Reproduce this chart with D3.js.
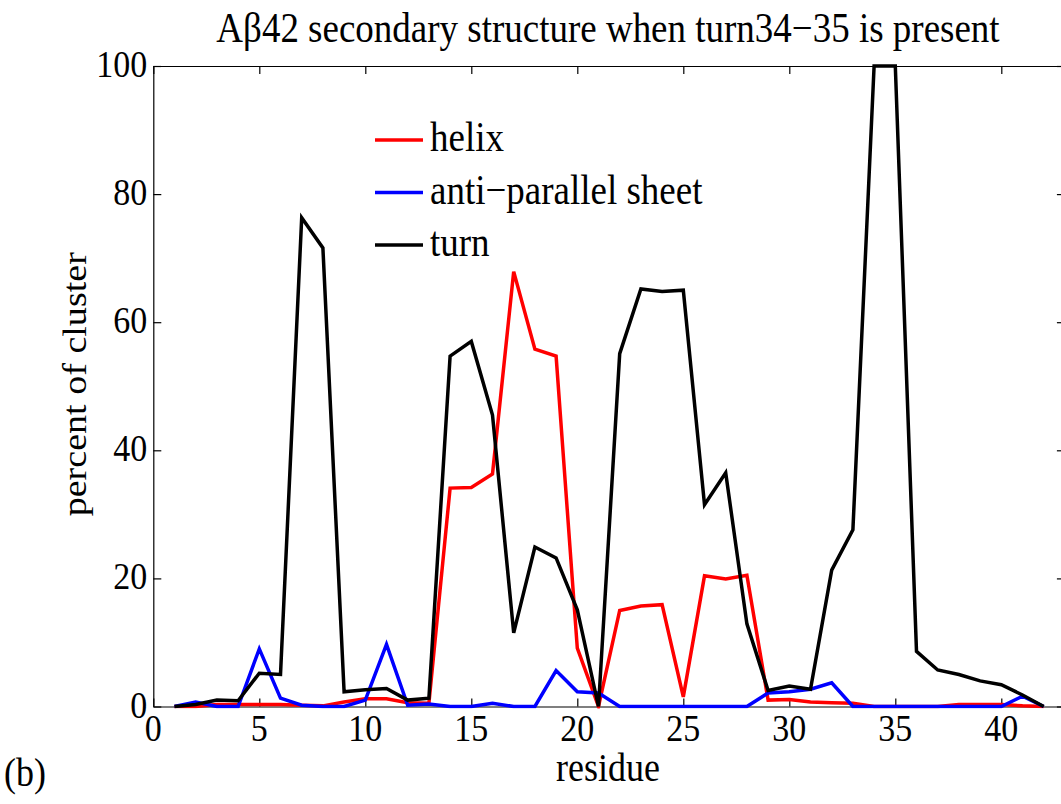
<!DOCTYPE html>
<html>
<head>
<meta charset="utf-8">
<script src="https://cdnjs.cloudflare.com/ajax/libs/d3/7.8.5/d3.min.js"></script>
<style>
  body { margin: 0; background: #fff; }
  svg { display: block; }
  text { font-family: "Liberation Serif", "DejaVu Serif", serif; fill: #000; }
</style>
</head>
<body>
<div id="chart"></div>
<script>
var residues = d3.range(1, 43);

var helix = [0, 0, 0.3, 0.3, 0.3, 0.3, 0.2, 0.1, 0.7, 1.2, 1.2, 0.6, 0.5, 34.1, 34.2, 36.3, 67.9, 55.8, 54.7, 9.1,
  0, 15.0, 15.7, 15.9, 1.5, 20.4, 19.9, 20.5, 1.0, 1.1, 0.7, 0.6, 0.5, 0, 0, 0, 0, 0.3, 0.3, 0.3, 0.1, 0];

var sheet = [0, 0.7, 0, 0, 9.0, 1.3, 0.2, 0, 0, 1.0, 9.7, 0.2, 0.4, 0, 0, 0.5, 0, 0, 5.6, 2.3,
  2.1, 0, 0, 0, 0, 0, 0, 0, 2.1, 2.3, 2.7, 3.7, 0, 0, 0, 0, 0, 0, 0, 0, 1.6, 0];

var turn = [0, 0.3, 1.0, 0.9, 5.2, 5.0, 76.3, 71.6, 2.3, 2.6, 2.8, 1.0, 1.3, 54.7, 57.0, 45.5, 11.5, 24.9, 23.2, 15.1,
  0, 55.1, 65.2, 64.8, 65.0, 31.5, 36.5, 12.9, 2.5, 3.2, 2.7, 21.3, 27.6, 100, 100, 8.6, 5.7, 5.0, 4.0, 3.4, 1.8, 0];

var seriesNames = ["helix", "anti\u2212parallel sheet", "turn"];
var seriesColors = ["#ff0000", "#0000ff", "#000000"];
var xTicks = [0, 5, 10, 15, 20, 25, 30, 35, 40];
var yTicks = [0, 20, 40, 60, 80, 100];

var width = 1061, height = 804;
var margin = {top: 66, left: 153.3, bottom: 97.5};
var plotW = 43 * 21.2, plotH = height - margin.top - margin.bottom;
var stretch = 1.12;   // the original text looks a bit taller than wide

var svg = d3.select("#chart").append("svg")
  .attr("width", width)
  .attr("height", height);

var x = d3.scaleLinear().domain([0, 43]).range([margin.left, margin.left + plotW]);
var y = d3.scaleLinear().domain([0, 100]).range([margin.top + plotH, margin.top]);

svg.append("clipPath").attr("id", "plotclip")
  .append("rect")
  .attr("x", margin.left).attr("y", margin.top - 2)
  .attr("width", plotW).attr("height", plotH + 4);

// draws a text stretched vertically around its anchor point
function label(parent, tx, ty, str, size, anchor, rotate) {
  var t = parent.append("text")
    .attr("text-anchor", anchor || "start")
    .style("font-size", size + "px")
    .text(str);
  if (rotate) {
    t.attr("transform", "translate(" + tx + "," + ty + ") rotate(-90) scale(" + stretch + ",1)");
  } else {
    t.attr("transform", "translate(" + tx + "," + ty + ") scale(1," + stretch + ")");
  }
  return t;
}

// axes with inward ticks on all four sides
var tickFont = 34;
svg.append("g")
  .attr("transform", "translate(0," + y(0) + ")")
  .call(d3.axisBottom(x).tickValues(xTicks).tickSizeInner(-8).tickSizeOuter(0).tickFormat(""));
svg.append("g")
  .attr("transform", "translate(" + x(0) + ",0)")
  .call(d3.axisLeft(y).tickValues(yTicks).tickSizeInner(-8).tickSizeOuter(0).tickFormat(""));
svg.append("g")
  .attr("transform", "translate(0," + y(100) + ")")
  .call(d3.axisTop(x).tickValues(xTicks).tickSizeInner(-8).tickSizeOuter(0).tickFormat(""));
svg.append("g")
  .attr("transform", "translate(" + x(43) + ",0)")
  .call(d3.axisRight(y).tickValues(yTicks).tickSizeInner(-8).tickSizeOuter(0).tickFormat(""));

svg.selectAll(".domain").attr("stroke", "#000").attr("stroke-width", 1.2);
svg.selectAll(".tick line").attr("stroke", "#000").attr("stroke-width", 1.2);

// tick labels, placed with the scales
var tickLabels = svg.append("g");
xTicks.forEach(function(v) {
  label(tickLabels, x(v), y(0) + 34, String(v), tickFont, "middle");
});
yTicks.forEach(function(v) {
  label(tickLabels, x(0) - 6, y(v) + 11, String(v), tickFont, "end");
});

// series lines
var line = d3.line()
  .x(function(d, i) { return x(residues[i]); })
  .y(function(d) { return y(d); });

var allSeries = [helix, sheet, turn];
svg.append("g")
  .attr("clip-path", "url(#plotclip)")
  .selectAll("path")
  .data(allSeries)
  .enter().append("path")
  .attr("d", line)
  .attr("fill", "none")
  .attr("stroke", function(d, i) { return seriesColors[i]; })
  .attr("stroke-width", 3.5)
  .attr("stroke-linejoin", "miter");

// legend
var legend = svg.append("g");
seriesNames.forEach(function(name, i) {
  var ly = 140 + i * 52.5;
  legend.append("line")
    .attr("x1", 375).attr("x2", 423)
    .attr("y1", ly).attr("y2", ly)
    .attr("stroke", seriesColors[i])
    .attr("stroke-width", 3.5);
  label(legend, 430, ly + 11, name, 37, "start");
});

// title and labels
label(svg, 608, 42, "A\u03b242 secondary structure when turn34\u221235 is present", 37, "middle");
label(svg, 608, 781, "residue", 36, "middle");
label(svg, 86, y(50) - 2, "percent of cluster", 34, "middle", true);
label(svg, 4, 786, "(b)", 36, "start");
</script>
</body>
</html>
